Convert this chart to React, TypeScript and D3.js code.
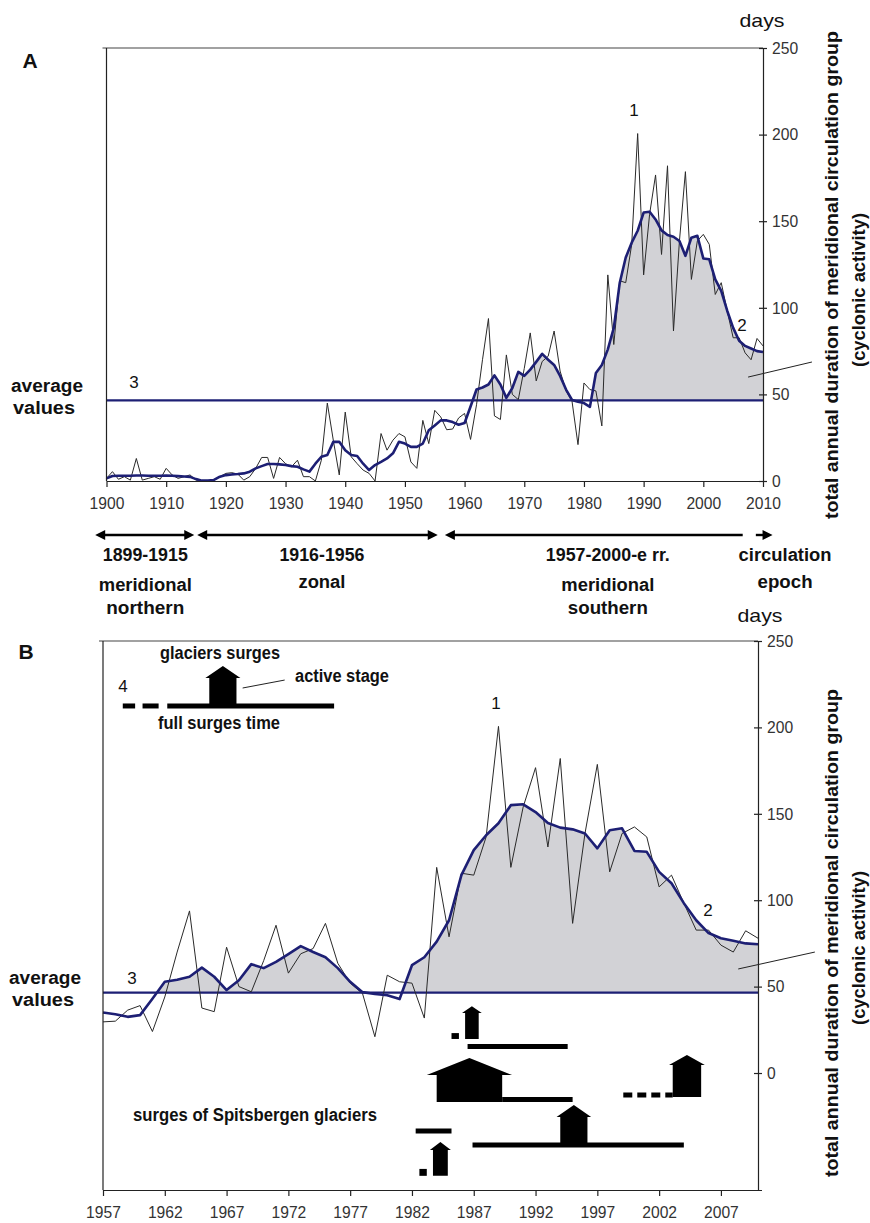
import { useEffect, useRef } from "react";
import * as d3 from "d3";

// ── data (days per year) ─────────────────────────────────────────────────────
const YEARS = d3.range(1900, 2011);

// annual total duration of meridional circulation group (thin line)
const ANNUAL = [
  1.5, 5.4, 1, 2.5, 0.5, 13, 0.5, 1.5, 2.5, 1,
  7.3, 3.5, 1.5, 2.5, 3.5, 0.5, 0, 0, 0.5, 2.5,
  4.4, 4.8, 4, 0.5, 2.5, 7.3, 13.6, 13.6, 1.5, 13.6,
  10, 8.2, 12, 2.5, 2.5, 0, 12, 45, 23.6, 3.5,
  39.8, 14, 10, 6.3, 4.4, 0, 27.4, 17.8, 23.6, 27.4,
  25.5, 11, 7.3, 35, 21.6, 40.8, 37,
  29.6, 30, 36.4, 39, 24, 44, 70, 93.8, 37.6, 35.5,
  72.8, 50, 47, 65, 85.5, 57.8, 69, 72, 86.6, 63.5,
  52, 46, 21, 56.6, 52.8, 52, 31.8, 119, 78.8, 115.6,
  114.5, 136.6, 200.6, 119, 154, 176.7, 130.8, 182, 86.6, 138.6,
  178.6, 116.4, 138.6, 142.4, 136.6, 107.7, 114.5, 98.3, 82.7, 82.7,
  74, 70, 82.3, 78,
];

// smoothed series (thick line)
const SMOOTHED = [
  1.5, 2.9, 3, 3, 3, 3.2, 3.2, 3, 3, 3,
  3.2, 3, 2.8, 2.6, 2.4, 1.1, 0.2, 0.2, 0.6, 2.5,
  3.4, 3.8, 4, 4.4, 5.4, 7.3, 8.6, 9.8, 9.8, 9.6,
  9.2, 8.6, 8.2, 6.7, 5.4, 10, 14, 15, 22.6, 22.6,
  17.8, 15, 14.4, 10, 6.3, 9.2, 11, 13, 16, 22.6,
  21.6, 19.7, 19.7, 21.6, 29.3, 32, 35,
  35, 34, 32.5, 33.5, 43, 52.8, 54, 55.7, 61, 55.7,
  48, 53.7, 63, 60.7, 64.3, 68.8, 73.4, 70, 67, 60.7,
  52.8, 46.8, 45.7, 45, 42.8, 62.4, 67, 76, 88.4, 114.5,
  129, 137.6, 144.5, 155, 155.5, 151, 144.7, 142, 141, 138.6,
  130, 140.5, 141.6, 128.5, 128, 116.4, 109.8, 98.3, 88.4, 81,
  78, 76.5, 75, 74.5,
];

const AVERAGE = 46.5;
const DAY_TICKS = [0, 50, 100, 150, 200, 250];
const TICKS_A = d3.range(1900, 2011, 10);
const TICKS_B = d3.range(1957, 2008, 5);

// circulation epochs (panel A, years)
const EPOCHS = [
  { from: 1898.1, to: 1914.7, heads: "both", at: 1906.5, lines: ["1899-1915", "meridional", "northern"] },
  { from: 1915.2, to: 1955.5, heads: "both", at: 1936.1, lines: ["1916-1956", "zonal"] },
  { from: 1956.7, to: 2006.6, heads: "left", at: 1984, lines: ["1957-2000-e rr.", "meridional", "southern"] },
  { from: 2008.8, to: 2011.6, heads: "right", at: 2013.7, lines: ["circulation", "epoch"] },
];

// surges of Spitsbergen glaciers (panel B, years / day-axis units)
const SURGE_LINES = [
  { from: 1986.5, to: 1994.6, v: 15.3, dash: "" },
  { from: 1989.3, to: 1995.0, v: -15.3, dash: "" },
  { from: 1999.1, to: 2003.1, v: -12.7, dash: "9,5" },
  { from: 1982.3, to: 1985.2, v: -33.5, dash: "" },
  { from: 1986.9, to: 2004.0, v: -41.6, dash: "" },
];
const SURGE_HOUSES = [
  { from: 1986.3, to: 1987.4, base: 19.7, top: 34.7, apex: 38.7, eave: 0.25 },
  { from: 1984.0, to: 1989.3, base: -16.8, top: -1.2, apex: 8.7, eave: 0.8 },
  { from: 2003.1, to: 2005.4, base: -13.9, top: 4.6, apex: 10.4, eave: 0.3 },
  { from: 1994.0, to: 1996.2, base: -42.8, top: -25.4, apex: -18.5, eave: 0.3 },
  { from: 1983.7, to: 1984.9, base: -59.5, top: -44.5, apex: -39.9, eave: 0.25 },
];
const SURGE_DOTS = [
  { from: 1985.2, to: 1985.8, v0: 19.7, v1: 23.1 },
  { from: 1982.6, to: 1983.2, v0: -59.5, v1: -55.5 },
];
// legend glyph (panel B)
const KEY_LINES = [
  { from: 1958.6, to: 1959.6, v: 212.4, dash: "" },
  { from: 1960.2, to: 1961.5, v: 212.4, dash: "" },
  { from: 1962.2, to: 1975.7, v: 212.4, dash: "" },
];
const KEY_HOUSE = [{ from: 1965.6, to: 1967.8, base: 212.4, top: 228.6, apex: 235.5, eave: 0.32 }];

const FONT = "'Liberation Sans', Arial, Helvetica, sans-serif";
const NAVY = "#1d1f74";

type Sel = d3.Selection<SVGGElement, unknown, null, undefined>;
type Pt = { yr: number; a: number; s: number };

interface PanelCfg {
  id: string;
  xDomain: [number, number];
  xRange: [number, number];
  yDomain: [number, number];
  yRange: [number, number];
  xTicks: number[];
}

// squeeze tick labels a little, the original uses a condensed face
function styleTicks(axisG: Sel) {
  axisG.attr("font-family", FONT).attr("font-size", 16.5);
  axisG.selectAll<SVGTextElement, number>("text")
    .attr("fill", "#333")
    .attr("textLength", function () { return (this.textContent ?? "").length * 8.7; })
    .attr("lengthAdjust", "spacingAndGlyphs");
  axisG.selectAll(".domain, .tick line").attr("stroke", "#222").attr("stroke-width", 1.2);
}

function drawPanel(root: Sel, cfg: PanelCfg) {
  const { id, xDomain, xRange, yDomain, yRange, xTicks } = cfg;
  const x = d3.scaleLinear().domain(xDomain).range(xRange);
  const y = d3.scaleLinear().domain(yDomain).range(yRange);
  const g = root.append("g").attr("class", `panel-${id}`);

  const pts: Pt[] = YEARS.map((yr, i) => ({ yr, a: ANNUAL[i], s: SMOOTHED[i] })).filter(
    (d) => d.yr >= xDomain[0] && d.yr <= xDomain[1]
  );

  // top border
  g.append("line")
    .attr("x1", xRange[0] - 4).attr("x2", xRange[1])
    .attr("y1", y(250)).attr("y2", y(250))
    .attr("stroke", "#444").attr("stroke-width", 1.2);

  // grey fill: smoothed curve above the average
  const clipId = `above-${id}`;
  g.append("clipPath").attr("id", clipId)
    .append("rect")
    .attr("x", xRange[0]).attr("y", y(250))
    .attr("width", xRange[1] - xRange[0]).attr("height", y(AVERAGE) - y(250));

  const area = d3.area<Pt>().x((d) => x(d.yr)).y0(y(AVERAGE)).y1((d) => y(d.s));
  g.append("path").datum(pts)
    .attr("d", area)
    .attr("fill", "#d2d2d6")
    .attr("clip-path", `url(#${clipId})`);

  // average line
  g.append("line")
    .attr("x1", xRange[0]).attr("x2", xRange[1])
    .attr("y1", y(AVERAGE)).attr("y2", y(AVERAGE))
    .attr("stroke", NAVY).attr("stroke-width", 2.2);

  const line = (key: "a" | "s") => d3.line<Pt>().x((d) => x(d.yr)).y((d) => y(d[key]));
  g.append("path").datum(pts).attr("d", line("a"))
    .attr("fill", "none").attr("stroke", "#2a2a2a").attr("stroke-width", 1);
  g.append("path").datum(pts).attr("d", line("s"))
    .attr("fill", "none").attr("stroke", NAVY).attr("stroke-width", 2.6).attr("stroke-linejoin", "round");

  // left axis
  g.append("line")
    .attr("x1", xRange[0]).attr("x2", xRange[0])
    .attr("y1", y(250)).attr("y2", yRange[0])
    .attr("stroke", "#222").attr("stroke-width", 1.2);

  // bottom axis
  const xAxisG = g.append("g").attr("transform", `translate(0,${yRange[0]})`);
  xAxisG.call(
    d3.axisBottom(x).tickValues(xTicks).tickFormat(d3.format("d")).tickSizeInner(6).tickSizeOuter(0).tickPadding(10)
  );
  styleTicks(xAxisG);

  // right axis (days)
  const yAxisG = g.append("g").attr("transform", `translate(${xRange[1]},0)`);
  yAxisG.call(d3.axisRight(y).tickValues(DAY_TICKS).tickSizeInner(4).tickSizeOuter(4).tickPadding(5));
  yAxisG.selectAll(".tick").append("line").attr("x2", -4);
  styleTicks(yAxisG);

  return { g, x, y };
}

interface TextOpts { size?: number; bold?: boolean; anchor?: string; spacing?: number; len?: number }

function addText(g: Sel, txt: string, xPos: number, yPos: number, opts: TextOpts = {}) {
  const t = g.append("text")
    .attr("x", xPos).attr("y", yPos).attr("dy", "0.35em")
    .attr("text-anchor", opts.anchor ?? "middle")
    .attr("font-family", FONT)
    .attr("font-size", opts.size ?? 15)
    .attr("font-weight", opts.bold ? "bold" : "normal")
    .attr("letter-spacing", opts.spacing ?? 0)
    .attr("fill", "#111")
    .text(txt);
  if (opts.len) t.attr("textLength", opts.len).attr("lengthAdjust", "spacingAndGlyphs");
  return t;
}

// bold, slightly condensed label
const lbl = (g: Sel, txt: string, xPos: number, yPos: number, len: number, anchor = "middle") =>
  addText(g, txt, xPos, yPos, { size: 18, bold: true, len, anchor });

function addTitle(g: Sel, cx: number, cy: number, cy2: number) {
  g.append("text")
    .attr("transform", `translate(${cx},${cy}) rotate(-90)`)
    .attr("text-anchor", "middle").attr("dy", "0.35em")
    .attr("font-family", FONT).attr("font-size", 18).attr("font-weight", "bold")
    .attr("textLength", 488).attr("lengthAdjust", "spacingAndGlyphs")
    .attr("fill", "#111")
    .text("total annual duration of meridional circulation group");
  g.append("text")
    .attr("transform", `translate(${cx + 27},${cy2}) rotate(-90)`)
    .attr("text-anchor", "middle").attr("dy", "0.35em")
    .attr("font-family", FONT).attr("font-size", 18).attr("font-weight", "bold")
    .attr("textLength", 154).attr("lengthAdjust", "spacingAndGlyphs")
    .attr("fill", "#111")
    .text("(cyclonic activity)");
}

function drawSurges(g: Sel, x: d3.ScaleLinear<number, number>, y: d3.ScaleLinear<number, number>,
  lines: typeof SURGE_LINES, houses: typeof SURGE_HOUSES, dots: typeof SURGE_DOTS) {
  g.selectAll(null).data(lines).join("line")
    .attr("x1", (d) => x(d.from)).attr("x2", (d) => x(d.to))
    .attr("y1", (d) => y(d.v)).attr("y2", (d) => y(d.v))
    .attr("stroke", "#000").attr("stroke-width", 5)
    .attr("stroke-dasharray", (d) => d.dash || null);

  g.selectAll(null).data(houses).join("path")
    .attr("d", (d) => {
      const p = d3.path();
      const mid = (d.from + d.to) / 2;
      p.moveTo(x(d.from), y(d.base));
      p.lineTo(x(d.from), y(d.top));
      p.lineTo(x(d.from - d.eave), y(d.top));
      p.lineTo(x(mid), y(d.apex));
      p.lineTo(x(d.to + d.eave), y(d.top));
      p.lineTo(x(d.to), y(d.top));
      p.lineTo(x(d.to), y(d.base));
      p.closePath();
      return p.toString();
    })
    .attr("fill", "#000");

  g.selectAll(null).data(dots).join("rect")
    .attr("x", (d) => x(d.from)).attr("width", (d) => x(d.to) - x(d.from))
    .attr("y", (d) => y(d.v1)).attr("height", (d) => y(d.v0) - y(d.v1))
    .attr("fill", "#000");
}

const EPOCH_LEN: Record<string, number> = {
  "1899-1915": 85, meridional: 93, northern: 78, "1916-1956": 85, zonal: 47,
  "1957-2000-e rr.": 124, southern: 80, circulation: 93, epoch: 55,
};

export default function App() {
  const svgRef = useRef<SVGSVGElement>(null);

  useEffect(() => {
    if (!svgRef.current) return;
    const svg = d3.select(svgRef.current);
    svg.selectAll("*").remove();
    const root = svg.append("g") as unknown as Sel;

    // ── Panel A ──────────────────────────────────────────────────────────────
    const A = drawPanel(root, {
      id: "a", xDomain: [1900, 2010], xRange: [106.5, 763],
      yDomain: [0, 250], yRange: [481, 48], xTicks: TICKS_A,
    });
    addText(A.g, "A", 30, 61, { size: 21, bold: true });
    addText(A.g, "days", 762, 20, { size: 19, len: 45 });
    addText(A.g, "1", 634, 110, { size: 17 });
    addText(A.g, "2", 742, 325, { size: 17 });
    addText(A.g, "3", 134, 382, { size: 17 });
    lbl(A.g, "average", 47, 386, 72);
    lbl(A.g, "values", 44, 408, 62);
    A.g.append("line")
      .attr("x1", A.x(2007.5)).attr("y1", A.y(60)).attr("x2", A.x(2018.2)).attr("y2", A.y(68.7))
      .attr("stroke", "#222").attr("stroke-width", 1);
    addTitle(A.g, 832, 275, 290);

    // epoch arrows
    const arrowY = 535;
    const epochG = A.g.append("g");
    EPOCHS.forEach((e) => {
      const x1 = A.x(e.from), x2 = A.x(e.to);
      const hl = e.heads === "both" || e.heads === "left";
      const hr = e.heads === "both" || e.heads === "right";
      epochG.append("line")
        .attr("x1", x1 + (hl ? 6 : 0)).attr("x2", x2 - (hr ? 6 : 0))
        .attr("y1", arrowY).attr("y2", arrowY)
        .attr("stroke", "#000").attr("stroke-width", 2.4);
      if (hl) epochG.append("path").attr("d", `M${x1},${arrowY}l10,-5v10z`).attr("fill", "#000");
      if (hr) epochG.append("path").attr("d", `M${x2},${arrowY}l-10,-5v10z`).attr("fill", "#000");
      e.lines.forEach((t, i) => {
        const yy = e.lines.length === 2 && i === 1 ? 582 : [555, 585, 608][i];
        lbl(epochG, t, A.x(e.at), yy, EPOCH_LEN[t]);
      });
    });

    // ── Panel B ──────────────────────────────────────────────────────────────
    const B = drawPanel(root, {
      id: "b", xDomain: [1957, 2010], xRange: [103, 758],
      yDomain: [-67.7, 250], yRange: [1190, 641], xTicks: TICKS_B,
    });
    addText(B.g, "B", 26, 652, { size: 21, bold: true });
    addText(B.g, "days", 760, 615, { size: 19, len: 45 });
    addText(B.g, "1", 496, 703, { size: 17 });
    addText(B.g, "2", 708, 910, { size: 17 });
    addText(B.g, "3", 132, 978, { size: 17 });
    addText(B.g, "4", 123, 686, { size: 17 });
    lbl(B.g, "average", 45, 978, 72);
    lbl(B.g, "values", 43, 1000, 62);
    B.g.append("line")
      .attr("x1", B.x(2008.4)).attr("y1", B.y(60.2)).attr("x2", B.x(2014.6)).attr("y2", B.y(70))
      .attr("stroke", "#222").attr("stroke-width", 1);
    addTitle(B.g, 832, 933, 948);

    // legend
    lbl(B.g, "glaciers surges", 220, 653, 120);
    lbl(B.g, "active stage", 295, 676, 94, "start");
    lbl(B.g, "full surges time", 219, 723, 122);
    B.g.append("line")
      .attr("x1", B.x(1968.3)).attr("y1", B.y(222.8)).attr("x2", B.x(1971.7)).attr("y2", B.y(227.4))
      .attr("stroke", "#222").attr("stroke-width", 1);
    drawSurges(B.g, B.x, B.y, KEY_LINES, KEY_HOUSE, []);

    // surges
    drawSurges(B.g, B.x, B.y, SURGE_LINES, SURGE_HOUSES, SURGE_DOTS);
    lbl(B.g, "surges of Spitsbergen glaciers", 255, 1115, 244);
  }, []);

  return (
    <svg
      ref={svgRef}
      width={870}
      height={1223}
      style={{ position: "absolute", left: 0, top: 0, background: "#fff" }}
    />
  );
}
